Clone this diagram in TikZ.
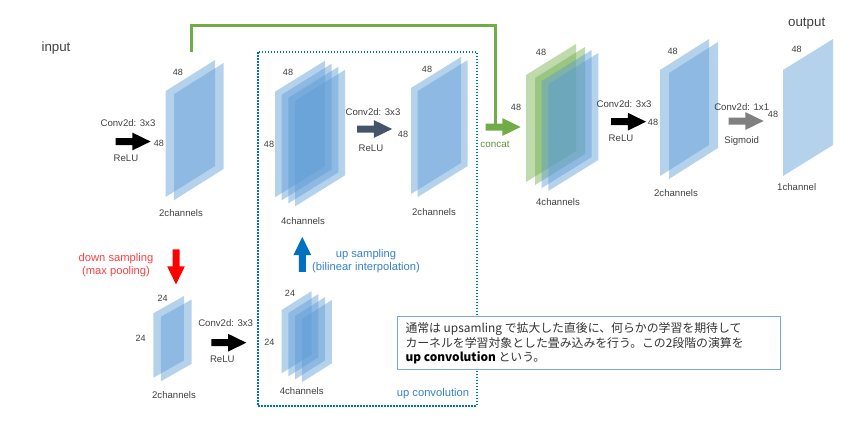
\documentclass[tikz,border=0pt]{standalone}
\usepackage{fontspec}
\setmainfont{Liberation Sans}
\newfontfamily\jpfont{Noto Sans CJK JP}
\usetikzlibrary{shapes.arrows}

\definecolor{lblgray}{RGB}{64,64,64}
\definecolor{mapblue}{RGB}{91,155,213}
\definecolor{mapgreen}{RGB}{112,173,71}
\definecolor{slate}{RGB}{68,84,106}
\definecolor{sigray}{RGB}{128,128,128}
\definecolor{upblue}{RGB}{0,112,192}
\definecolor{uptext}{RGB}{52,130,205}
\definecolor{downred}{RGB}{255,0,0}
\definecolor{boxline}{RGB}{120,170,220}

% one feature map: #1 style, #2 x, #3 y (top left), #4 width, #5 skew, #6 height
\newcommand{\featmap}[6]{%
  \fill[#1] (#2,#3) -- ++(#4,-#5) -- ++(0,#6) -- ++(-#4,#5) -- cycle;}

\tikzset{every picture/.style={line width=0.75pt}}

\begin{document}
\begin{tikzpicture}[x=0.75pt,y=0.75pt,yscale=-1,xscale=1,
  bluemap/.style={fill=mapblue, fill opacity=0.45},
  greenmap/.style={fill=mapgreen, fill opacity=0.45},
  lbl/.style={text=lblgray, font=\fontsize{7.2}{8.5}\selectfont, inner sep=0pt},
  dimlbl/.style={text=lblgray, font=\fontsize{6.8}{8}\selectfont, inner sep=0pt},
  titlelbl/.style={text=lblgray, font=\fontsize{10}{12}\selectfont, inner sep=0pt},
  samplbl/.style={font=\fontsize{8.4}{9.6}\selectfont, inner sep=0pt, align=center},
  fatarrow/.style={single arrow, draw=none, inner xsep=0pt, inner ysep=2.25pt,
    single arrow head extend=4pt, single arrow tip angle=52, minimum height=26.25pt}]
\useasboundingbox (0,0) rectangle (854,433);

%Titles
\node[titlelbl] (inlbl) at (56,48) {input};
\node[titlelbl] (outlbl) at (806.7,24) {output};

%Dotted frame: up convolution
\draw[upblue, line width=1.6pt, dash pattern=on 1.35pt off 0.9pt] (258,52) rectangle (477,405.7);
\node[samplbl, text=uptext] (upconvlbl) at (433,394) {up convolution};

%Shape: input block, 2 channels
\foreach \d in {0,1} {\featmap{bluemap}{165.7+8.5*\d}{91+3*\d}{49.3}{31}{106}}
\node[dimlbl] (inw) at (178,72) {48};
\node[dimlbl] (inh) at (159,143) {48};
\node[lbl] (inch) at (181,213) {2channels};
\node[fatarrow, fill=black] (convA) at (129.5,141.5) {};
\node[lbl] (convAtop) at (128,123) {Conv2d: 3x3};
\node[lbl] (convAbot) at (126,158) {ReLU};

%Shape: 4 channels after up sampling
\foreach \d in {0,...,3} {\featmap{bluemap}{275+6.7*\d}{91.7+3*\d}{50}{31}{105.6}}
\node[dimlbl] (upw) at (288,72.7) {48};
\node[dimlbl] (uph) at (269,144) {48};
\node[lbl] (upch) at (303,221.5) {4channels};
\node[fatarrow, fill=slate] (convB) at (371,129) {};
\node[lbl] (convBtop) at (373,112) {Conv2d: 3x3};
\node[lbl] (convBbot) at (371,148) {ReLU};
\node[dimlbl] (convBh) at (403,134) {48};

%Shape: 2 channels after up convolution
\foreach \d in {0,1} {\featmap{bluemap}{411+6.7*\d}{88+3*\d}{50}{31}{106}}
\node[dimlbl] (ucw) at (427,69) {48};
\node[lbl] (ucch) at (434,212) {2channels};

%Shape: concat block, 4 channels
\foreach \dx/\dy in {0/0,9/3} {\featmap{greenmap}{526+\dx}{75+\dy}{50}{31}{107}}
\foreach \dx/\dy in {15.7/6,22.3/9} {\featmap{bluemap}{526+\dx}{75+\dy}{50}{31}{107}}
\node[dimlbl] (catw) at (541,52.7) {48};
\node[dimlbl] (cath) at (516,107.7) {48};
\node[lbl] (catch) at (558,201.7) {4channels};
\node[fatarrow, fill=mapgreen] (catarrow) at (499.5,127) {};
\node[lbl, text=mapgreen!85!black, font=\fontsize{7.4}{8.5}\selectfont] (catlbl) at (495,144) {concat};
\coordinate (skipstart) at (191.7,51.7);
\coordinate (skipend) at (495,127);
\draw[mapgreen, line width=2.25pt] (skipstart) -- ++(0,-26.2) -| (skipend);

%Arrow: second conv
\node[fatarrow, fill=black] (convC) at (625,121.7) {};
\node[lbl] (convCtop) at (624,104) {Conv2d: 3x3};
\node[lbl] (convCbot) at (621,138) {ReLU};
\node[dimlbl] (convCh) at (653,122.7) {48};

%Shape: 2 channels before output
\foreach \d in {0,1} {\featmap{bluemap}{660+9*\d}{70+3*\d}{49}{31}{106}}
\node[dimlbl] (lastw) at (672.7,51) {48};
\node[lbl] (lastch) at (676,192.7) {2channels};
\node[fatarrow, fill=sigray] (convD) at (742.5,121) {};
\node[lbl] (convDtop) at (741.7,107) {Conv2d: 1x1};
\node[lbl] (convDbot) at (741.7,141) {Sigmoid};
\node[dimlbl] (convDh) at (773,114) {48};

%Shape: output, 1 channel
\featmap{bluemap}{783}{70}{50}{31}{106}
\node[dimlbl] (outw) at (796.7,49) {48};
\node[lbl] (outch) at (796.7,187) {1channel};

%Arrow: down sampling
\node[fatarrow, fill=downred, rotate=-90] (down) at (176,263.3) {};
\node[samplbl, text=downred!75] (downlbl) at (116,265) {down sampling\\(max pooling)};

%Shape: 24 block, 2 channels
\foreach \d in {0,1} {\featmap{bluemap}{153.3+7.6*\d}{313.3+3.5*\d}{30.7}{17.3}{64.4}}
\node[dimlbl] (poolw) at (162.7,298) {24};
\node[dimlbl] (poolh) at (140.7,338) {24};
\node[lbl] (poolch) at (174,395) {2channels};
\node[fatarrow, fill=black] (convE) at (225.2,342.7) {};
\node[lbl] (convEtop) at (225.7,323) {Conv2d: 3x3};
\node[lbl] (convEbot) at (222.3,359) {ReLU};
\node[dimlbl] (convEh) at (269.3,342.5) {24};

%Shape: 24 block, 4 channels
\foreach \d in {0,...,3} {\featmap{bluemap}{281.7+6.7*\d}{310+3*\d}{30}{19}{63.3}}
\node[dimlbl] (loww) at (290,293) {24};
\node[lbl] (lowch) at (301.7,391) {4channels};

%Arrow: up sampling
\node[fatarrow, fill=upblue, rotate=90] (up) at (302.3,258) {};
\node[samplbl, text=uptext] (uplbl) at (366,261) {up sampling\\(bilinear interpolation)};

%Note box
\draw[boxline, fill=white, line width=0.8pt] (397.3,316.7) rectangle (780.7,369.3);
\node[anchor=north west, inner sep=0pt, align=left, text=lblgray!80!black,
  font=\jpfont\fontsize{8.9}{10.9}\selectfont] (note) at (405,322)
  {通常は upsamling で拡大した直後に、何らかの学習を期待して\\
   カーネルを学習対象とした畳み込みを行う。この2段階の演算を\\
   {\bfseries\color{black}up convolution} という。};

\end{tikzpicture}
\end{document}
